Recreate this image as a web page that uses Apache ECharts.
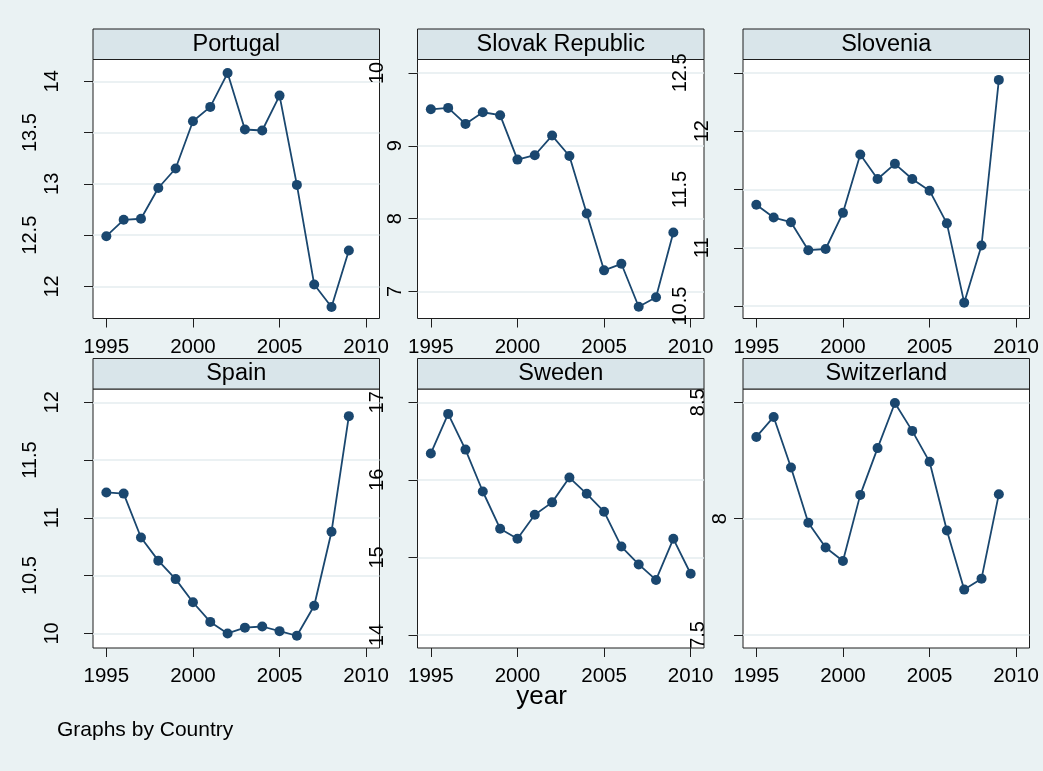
<!DOCTYPE html>
<html>
<head>
<meta charset="utf-8">
<script src="https://cdn.jsdelivr.net/npm/echarts@6/dist/echarts.min.js"></script>
<style>
  html, body { margin: 0; padding: 0; background: #eaf2f3; }
  #chart { width: 1043px; height: 771px; }
</style>
</head>
<body>
<div id="chart"></div>
<script>
// ---- data ----
const years = [1995, 1996, 1997, 1998, 1999, 2000, 2001, 2002, 2003, 2004, 2005, 2006, 2007, 2008, 2009, 2010];

const countries = ['Portugal', 'Slovak Republic', 'Slovenia', 'Spain', 'Sweden', 'Switzerland'];

const portugal    = [12.49, 12.65, 12.66, 12.96, 13.15, 13.61, 13.75, 14.08, 13.53, 13.52, 13.86, 12.99, 12.02, 11.80, 12.35];
const slovakRep   = [9.50, 9.52, 9.30, 9.46, 9.42, 8.81, 8.87, 9.14, 8.86, 8.07, 7.29, 7.38, 6.79, 6.92, 7.81];
const slovenia    = [11.37, 11.26, 11.22, 10.98, 10.99, 11.30, 11.80, 11.59, 11.72, 11.59, 11.49, 11.21, 10.53, 11.02, 12.44];
const spain       = [11.22, 11.21, 10.83, 10.63, 10.47, 10.27, 10.10, 10.00, 10.05, 10.06, 10.02, 9.98, 10.24, 10.88, 11.88];
const sweden      = [16.34, 16.85, 16.39, 15.85, 15.37, 15.24, 15.55, 15.71, 16.03, 15.82, 15.59, 15.14, 14.91, 14.71, 15.24, 14.79];
const switzerland = [8.351, 8.437, 8.220, 7.982, 7.876, 7.818, 8.102, 8.303, 8.497, 8.377, 8.244, 7.949, 7.695, 7.742, 8.105];

const seriesValues = [portugal, slovakRep, slovenia, spain, sweden, switzerland];

const xTicks = [1995, 2000, 2005, 2010];
const yTicks = [
  [12, 12.5, 13, 13.5, 14],
  [7, 8, 9, 10],
  [10.5, 11, 11.5, 12, 12.5],
  [10, 10.5, 11, 11.5, 12],
  [14, 15, 16, 17],
  [7.5, 8, 8.5]
];

const xTitle = 'year';
const note = 'Graphs by Country';

// ---- layout ----
const FONT = '"Liberation Sans", Arial, Helvetica, sans-serif';
const NAVY = '#1a476f';
const colLeft = [93, 417.5, 743];
const rowTop = [59.5, 389];
const plotW = 286.5;
const plotH = 259;
const stripH = 30.5;
const xRange = [1994.23, 2010.77];
const yRange = [
  [11.688, 14.212],
  [6.629, 10.184],
  [10.394, 12.615],
  [9.874, 12.115],
  [13.833, 17.171],
  [7.444, 8.557]
];

// Vertical tick labels sit further from the axis the longer they are
function labelGap(v) {
  const parts = String(v).split('.');
  return 16.5 + 18 * (parts[0].length - 1) + (parts[1] ? 22 : 0);
}

const grid = [], xAxis = [], yAxis = [], series = [], graphic = [];

countries.forEach((name, i) => {
  const col = i % 3, row = Math.floor(i / 3);
  const left = colLeft[col], top = rowTop[row];
  grid.push({
    left: left, top: top, width: plotW, height: plotH,
    show: true, backgroundColor: '#ffffff', borderColor: '#1e1e1e', borderWidth: 1
  });
  xAxis.push({
    type: 'value', gridIndex: i, min: xRange[0], max: xRange[1],
    axisLine: { show: false },
    axisTick: { show: true, customValues: xTicks, length: 9, lineStyle: { color: '#1e1e1e', width: 1 } },
    axisLabel: {
      customValues: xTicks, fontSize: 20.5, color: '#000', fontFamily: FONT, margin: 18,
      formatter: v => String(v)
    },
    splitLine: { show: false }
  });

  // group tick labels by their distance from the axis
  const groups = {};
  yTicks[i].forEach(v => {
    const g = labelGap(v);
    (groups[g] = groups[g] || []).push(v);
  });
  const gapKeys = Object.keys(groups);
  const baseIndex = yAxis.length;
  gapKeys.forEach((g, k) => {
    yAxis.push({
      type: 'value', gridIndex: i, position: 'left',
      min: yRange[i][0], max: yRange[i][1],
      axisLine: { show: false },
      axisTick: k === 0
        ? { show: true, customValues: yTicks[i], length: 9, lineStyle: { color: '#1e1e1e', width: 1 } }
        : { show: false },
      splitLine: k === 0
        ? { show: true, lineStyle: { color: '#e4ecef', width: 1.6 } }
        : { show: false },
      axisLabel: {
        customValues: groups[g], rotate: 90, fontSize: 20, color: '#000',
        fontFamily: FONT, margin: Number(g) - 4,
        formatter: v => String(v)
      }
    });
  });

  const vals = seriesValues[i];
  series.push({
    type: 'line', xAxisIndex: i, yAxisIndex: baseIndex,
    data: vals.map((v, j) => [years[j], v]),
    symbol: 'circle', symbolSize: 10, showAllSymbol: true,
    lineStyle: { color: NAVY, width: 1.8 },
    itemStyle: { color: NAVY },
    z: 3
  });

  graphic.push({
    type: 'group', z: 100,
    children: [
      { type: 'rect', shape: { x: left, y: top - stripH, width: plotW, height: stripH },
        style: { fill: '#d9e5ea', stroke: '#1e1e1e', lineWidth: 1 } },
      { type: 'text', x: left + plotW / 2, y: top - stripH / 2,
        style: { text: name, fill: '#000', font: '23.5px ' + FONT, align: 'center', verticalAlign: 'middle' } }
    ]
  });
});

graphic.push({
  type: 'text', z: 100, x: 541.5, y: 697,
  style: { text: xTitle, fill: '#000', font: '26px ' + FONT, align: 'center', verticalAlign: 'middle' }
});
graphic.push({
  type: 'text', z: 100, x: 57, y: 730,
  style: { text: note, fill: '#000', font: '21px ' + FONT, align: 'left', verticalAlign: 'middle' }
});

const chart = echarts.init(document.getElementById('chart'), null, { renderer: 'canvas' });
chart.setOption({
  backgroundColor: '#eaf2f3',
  animation: false,
  grid, xAxis, yAxis, series, graphic
});
</script>
</body>
</html>
